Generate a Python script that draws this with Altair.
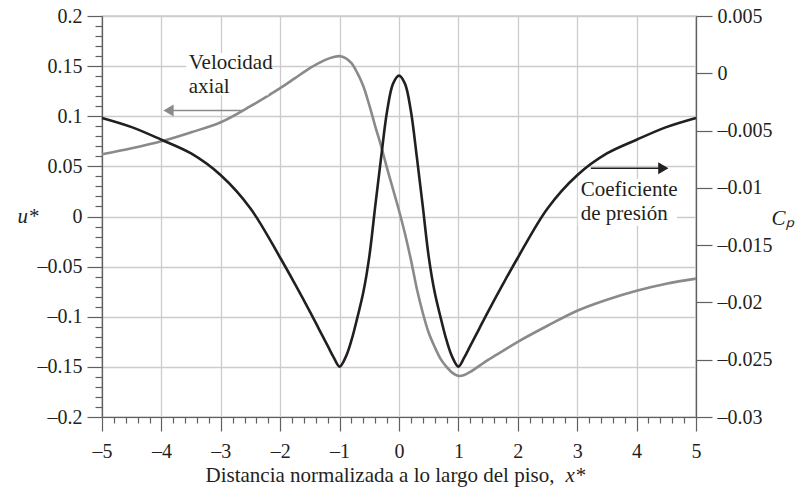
import altair as alt
import pandas as pd

# ---- data ----
x_gray = [-5, -4.5, -4, -3.5, -3, -2.5, -2, -1.75, -1.5, -1.25, -1.1, -1, -0.9, -0.8, -0.7,
          -0.6, -0.5, -0.4, -0.3, -0.2, -0.1, 0, 0.1, 0.2, 0.3, 0.4, 0.5, 0.6, 0.7, 0.8,
          0.9, 1, 1.1, 1.2, 1.5, 1.75, 2, 2.5, 3, 3.5, 4, 4.5, 5]
u_gray = [0.062, 0.068, 0.075, 0.084, 0.094, 0.110, 0.128, 0.138, 0.148, 0.156, 0.159, 0.160,
          0.158, 0.153, 0.143, 0.130, 0.111, 0.090, 0.070, 0.048, 0.027, 0.006, -0.017, -0.043,
          -0.072, -0.096, -0.116, -0.130, -0.142, -0.150, -0.156, -0.159, -0.158, -0.155,
          -0.143, -0.134, -0.125, -0.109, -0.094, -0.083, -0.074, -0.067, -0.062]

x_black = [-5, -4.5, -4, -3.5, -3, -2.5, -2, -1.75, -1.5, -1.35, -1.2, -1.1, -1, -0.9, -0.8,
           -0.7, -0.6, -0.5, -0.4, -0.3, -0.2, -0.1, 0, 0.1, 0.2, 0.3, 0.4, 0.5, 0.6, 0.7,
           0.8, 0.9, 1, 1.1, 1.2, 1.35, 1.5, 1.75, 2, 2.5, 3, 3.5, 4, 4.5, 5]
cp_black = [-0.0039, -0.0047, -0.0058, -0.0070, -0.0089, -0.0118, -0.0161, -0.0184, -0.0208,
            -0.0223, -0.0238, -0.0248, -0.0256, -0.0248, -0.0233, -0.0213, -0.0191, -0.0160,
            -0.0116, -0.0073, -0.0033, -0.0009, -0.0002, -0.0009, -0.0033, -0.0073, -0.0116,
            -0.0160, -0.0191, -0.0213, -0.0233, -0.0248, -0.0256, -0.0248, -0.0238, -0.0223,
            -0.0208, -0.0184, -0.0161, -0.0118, -0.0089, -0.0070, -0.0058, -0.0047, -0.0039]

x_major_ticks = list(range(-5, 6))
x_minor_ticks = [round(-5 + 0.2 * i, 1) for i in range(51) if i % 5 != 0]
u_major_ticks = [round(-0.2 + 0.05 * i, 2) for i in range(9)]
u_minor_ticks = [round(-0.2 + 0.01 * i, 2) for i in range(41) if i % 5 != 0]
cp_ticks = [-0.03, -0.025, -0.02, -0.015, -0.01, -0.005, 0, 0.005]

# annotations
u_labels = ["Velocidad", "axial"]
cp_labels = ["Coeficiente", "de presión"]

FONT = "'Liberation Serif', 'Times New Roman', Times, serif"
INK = "#231f20"
GRAY = "#8a8a8a"
AX = "#606060"
GRID = "#cccccc"

gray_df = pd.DataFrame({"x": x_gray, "u": u_gray})
black_df = pd.DataFrame({"x": x_black, "cp": cp_black})

u_scale = alt.Scale(domain=[-0.2, 0.2], nice=False, zero=False)
cp_scale = alt.Scale(domain=[-0.03, 0.005], nice=False, zero=False)
x_scale = alt.Scale(domain=[-5, 5], nice=False, zero=False)

common = dict(domainColor=AX, tickColor=AX, domainWidth=1.2, tickWidth=1.2,
              labelFont=FONT, labelFontSize=20, labelColor=INK,
              labelFlush=False, labelOverlap=False,
              titleFont=FONT, titleFontSize=21, titleFontWeight="normal", titleColor=INK)

x_axis = alt.Axis(
    values=x_major_ticks, orient="bottom", tickSize=14, labelPadding=10,
    labelExpr="datum.value < -0.001 ? '–' + format(-datum.value, '~g') : format(abs(datum.value), '~g')",
    grid=True, gridColor=GRID, gridWidth=1.3,
    title="Distancia normalizada a lo largo del piso,",
    titleX=103, titleY=64, titleAlign="left", titleBaseline="alphabetic", titleAnchor="start",
    **common)

x_minor_axis = alt.Axis(
    values=x_minor_ticks, orient="bottom", tickSize=6, labels=False, domain=False, grid=False,
    title="x*", titleFontStyle="italic",
    titleX=463, titleY=64, titleAlign="left", titleBaseline="alphabetic", titleAnchor="start",
    **{k: v for k, v in common.items() if k not in ("domainColor", "domainWidth")})

u_axis = alt.Axis(
    values=u_major_ticks, orient="left", tickSize=15, labelPadding=5,
    labelExpr="datum.value < -0.001 ? '–' + format(round(-datum.value*100)/100, '~g') : format(round(abs(datum.value)*100)/100, '~g')",
    grid=True, gridColor=GRID, gridWidth=1.3,
    title="u*", titleFontStyle="italic", titleAngle=0,
    titleX=-64, titleY=200, titleAlign="right", titleBaseline="middle",
    **common)

u_minor_axis = alt.Axis(
    values=u_minor_ticks, orient="left", tickSize=7, labels=False, domain=False,
    grid=False, title=None, tickColor=AX, tickWidth=1.2)

cp_axis = alt.Axis(
    values=cp_ticks, orient="right", tickSize=16, labelPadding=5, grid=False,
    labelExpr="datum.value < -0.0001 ? '–' + format(round(-datum.value*1000)/1000, '~g') : format(round(abs(datum.value)*1000)/1000, '~g')",
    title="Cₚ", titleFontStyle="italic", titleAngle=0,
    titleX=75, titleY=202, titleAlign="left", titleBaseline="middle",
    **common)

XN = alt.X("x:Q", scale=x_scale, axis=None)

# invisible layers carrying the minor-tick axes
x_minor_layer = alt.Chart(pd.DataFrame({"x": x_minor_ticks})).mark_point(opacity=0).encode(
    x=alt.X("x:Q", scale=x_scale, axis=x_minor_axis))
u_minor_layer = alt.Chart(pd.DataFrame({"u": u_minor_ticks})).mark_point(opacity=0).encode(
    x=XN, y=alt.Y("u:Q", scale=u_scale, axis=u_minor_axis))

# white boxes behind annotation text
u_box = pd.DataFrame({"x": [-3.58], "x2": [-2.2], "u": [0.121], "u2": [0.163]})
cp_box = pd.DataFrame({"x": [3.01], "x2": [4.68], "cp": [-0.0133], "cp2": [-0.0092]})

box_u = alt.Chart(u_box).mark_rect(color="white").encode(
    x=XN, x2="x2", y=alt.Y("u:Q", scale=u_scale, axis=None), y2="u2")
box_cp = alt.Chart(cp_box).mark_rect(color="white").encode(
    x=XN, x2="x2", y=alt.Y("cp:Q", scale=cp_scale, axis=None), y2="cp2")

gray_line = alt.Chart(gray_df).mark_line(color=GRAY, strokeWidth=2.6, interpolate="catmull-rom").encode(
    x=alt.X("x:Q", scale=x_scale, axis=x_axis), y=alt.Y("u:Q", scale=u_scale, axis=u_axis))

black_line = alt.Chart(black_df).mark_line(color=INK, strokeWidth=2.6, interpolate="catmull-rom").encode(
    x=XN, y=alt.Y("cp:Q", scale=cp_scale, axis=cp_axis))

# arrows
u_arrow = pd.DataFrame({"x": [-2.64], "x2": [-3.9], "u": [0.1057]})
u_head = pd.DataFrame({"x": [-3.88], "u": [0.1057]})
cp_arrow = pd.DataFrame({"x": [3.23], "x2": [4.45], "cp": [-0.00829]})
cp_head = pd.DataFrame({"x": [4.45], "cp": [-0.00829]})

arrow_u = alt.Chart(u_arrow).mark_rule(color=GRAY, strokeWidth=1.6).encode(
    x=XN, x2="x2", y=alt.Y("u:Q", scale=u_scale, axis=None))
head_u = alt.Chart(u_head).mark_point(shape="triangle-left", filled=True, color=GRAY, size=140, opacity=1).encode(
    x=XN, y=alt.Y("u:Q", scale=u_scale, axis=None))
arrow_cp = alt.Chart(cp_arrow).mark_rule(color=INK, strokeWidth=1.6).encode(
    x=XN, x2="x2", y=alt.Y("cp:Q", scale=cp_scale, axis=None))
head_cp = alt.Chart(cp_head).mark_point(shape="triangle-right", filled=True, color=INK, size=140, opacity=1).encode(
    x=XN, y=alt.Y("cp:Q", scale=cp_scale, axis=None))

u_text_df = pd.DataFrame({"x": [-3.54, -3.54], "u": [0.147, 0.123], "t": u_labels})
cp_text_df = pd.DataFrame({"x": [3.06, 3.06], "cp": [-0.0107, -0.0128], "t": cp_labels})

text_u = alt.Chart(u_text_df).mark_text(font=FONT, fontSize=21, color=INK, align="left", baseline="alphabetic").encode(
    x=XN, y=alt.Y("u:Q", scale=u_scale, axis=None), text="t:N")
text_cp = alt.Chart(cp_text_df).mark_text(font=FONT, fontSize=21, color=INK, align="left", baseline="alphabetic").encode(
    x=XN, y=alt.Y("cp:Q", scale=cp_scale, axis=None), text="t:N")

chart = alt.layer(
    gray_line, black_line, x_minor_layer, u_minor_layer, box_u, box_cp,
    arrow_u, head_u, arrow_cp, head_cp, text_u, text_cp
).resolve_scale(y="independent").resolve_axis(x="independent", y="independent").properties(
    width=594, height=401,
    autosize=alt.AutoSizeParams(type="none"),
    padding={"left": 94, "top": 8, "right": 100, "bottom": 71},
    background="white",
).configure_view(stroke=AX, strokeWidth=1.2)

chart.save("out.html", embed_options={"renderer": "svg", "actions": False})
